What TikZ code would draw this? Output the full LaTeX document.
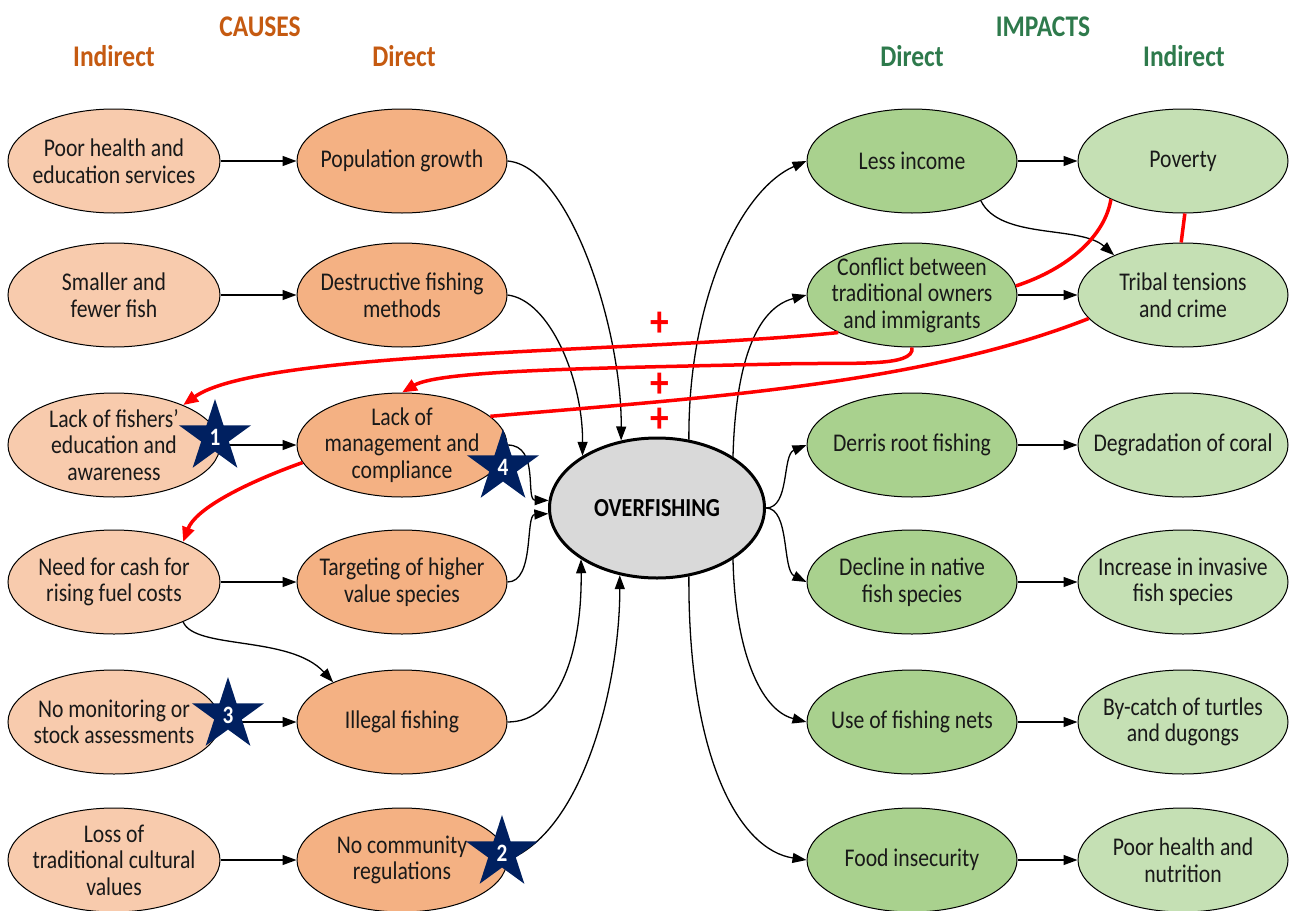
\documentclass[tikz,border=0pt]{standalone}
\usepackage{fontspec}
\setmainfont[FakeStretch=0.85]{Carlito}
\usetikzlibrary{shapes.geometric,arrows.meta}
\definecolor{causehd}{HTML}{C55A11}
\definecolor{impacthd}{HTML}{2E7A4C}
\definecolor{indcause}{HTML}{F8CBAD}
\definecolor{dircause}{HTML}{F4B183}
\definecolor{dirimp}{HTML}{A9D18E}
\definecolor{indimp}{HTML}{C5E0B4}
\definecolor{centrefill}{HTML}{D9D9D9}
\definecolor{navy}{HTML}{002060}

\begin{document}
\begin{tikzpicture}[x=1pt,y=-1pt,
  oval/.style={ellipse, draw=black, line width=1pt, minimum width=210pt, minimum height=104pt, inner sep=0pt},
  indc/.style={oval, fill=indcause, minimum width=212pt},
  dirc/.style={oval, fill=dircause},
  diri/.style={oval, fill=dirimp},
  indi/.style={oval, fill=indimp},
  lbl/.style={font=\fontsize{25.5}{26.5}\selectfont, align=center, text=black!90, inner sep=0pt},
  hdr/.style={font=\bfseries\fontsize{30}{32}\selectfont},
  conn/.style={draw=black, line width=1.3pt, -{Triangle[length=14pt,width=10pt]}},
  fb/.style={draw=red, line width=3.5pt},
  fbarrow/.style={fb, -{Triangle[length=15pt,width=12pt]}},
  badge/.style={star, star points=5, star point ratio=2.618, minimum size=76pt, inner sep=0pt,
    fill=navy, text=white, font=\bfseries\fontsize{25}{25}\selectfont},
  plussign/.style={text=red, font=\bfseries\fontsize{44}{44}\selectfont, inner sep=0pt,
    text height=23pt, text depth=0pt}
]
\useasboundingbox (0,0) rectangle (1292,910);

% headings
\node[hdr, text=causehd] (hcause) at (260,27) {CAUSES};
\node[hdr, text=causehd] (hci) at (114,56) {Indirect};
\node[hdr, text=causehd] (hcd) at (404,56) {Direct};
\node[hdr, text=impacthd] (himp) at (1043,27) {IMPACTS};
\node[hdr, text=impacthd] (hid) at (912,56) {Direct};
\node[hdr, text=impacthd] (hii) at (1184,56) {Indirect};

% indirect causes
\node[indc] (hs) at (114,161) {};
\node[lbl] at (hs) {Poor health and\\education services};
\node[indc] (sf) at (114,295) {};
\node[lbl] at (sf) {Smaller and\\fewer fish};
\node[indc] (fe) at (114,445) {};
\node[lbl] at (fe) {Lack of fishers’\\education and\\awareness};
\node[indc] (nc) at (114,582) {};
\node[lbl] at (nc) {Need for cash for\\rising fuel costs};
\node[indc] (nm) at (114,722) {};
\node[lbl] at (nm) {No monitoring or\\stock assessments};
\node[indc] (tc) at (114,860) {};
\node[lbl] at (tc) {Loss of\\traditional cultural\\values};

% direct causes
\node[dirc] (pg) at (402,161) {};
\node[lbl] at (pg) {Population growth};
\node[dirc] (df) at (402,295) {};
\node[lbl] at (df) {Destructive fishing\\methods};
\node[dirc] (mc) at (402,445) {};
\node[lbl] at (mc) {Lack of\\management and\\compliance};
\node[dirc] (th) at (402,582) {};
\node[lbl] at (th) {Targeting of higher\\value species};
\node[dirc] (il) at (402,722) {};
\node[lbl] at (il) {Illegal fishing};
\node[dirc] (cr) at (402,860) {};
\node[lbl] at (cr) {No community\\regulations};

% direct impacts
\node[diri] (li) at (912,161) {};
\node[lbl] at (li) {Less income};
\node[diri] (co) at (912,295) {};
\node[lbl] at (co) {Conflict between\\traditional owners\\and immigrants};
\node[diri] (dr) at (912,445) {};
\node[lbl] at (dr) {Derris root fishing};
\node[diri] (dn) at (912,582) {};
\node[lbl] at (dn) {Decline in native\\fish species};
\node[diri] (fn) at (912,722) {};
\node[lbl] at (fn) {Use of fishing nets};
\node[diri] (fi) at (912,860) {};
\node[lbl] at (fi) {Food insecurity};

% indirect impacts
\node[indi] (pv) at (1183,161) {};
\node[lbl] at (pv) {Poverty};
\node[indi] (tt) at (1183,295) {};
\node[lbl] at (tt) {Tribal tensions\\and crime};
\node[indi] (dc) at (1183,445) {};
\node[lbl] at (dc) {Degradation of coral};
\node[indi] (ii) at (1183,582) {};
\node[lbl] at (ii) {Increase in invasive\\fish species};
\node[indi] (bc) at (1183,722) {};
\node[lbl] at (bc) {By-catch of turtles\\and dugongs};
\node[indi] (ph) at (1183,860) {};
\node[lbl] at (ph) {Poor health and\\nutrition};

% central problem
\node[ellipse, draw=black, line width=3pt, fill=centrefill, minimum width=215pt, minimum height=140pt,
      inner sep=0pt, font=\bfseries\fontsize{26}{28}\selectfont] (of) at (657,508) {OVERFISHING};

% indirect -> direct causes
\draw[conn] (hs.east) -- (pg.west);
\draw[conn] (sf.east) -- (df.west);
\draw[conn] (fe.east) -- (mc.west);
\draw[conn] (nc.east) -- (th.west);
\draw[conn] (nm.east) -- (il.west);
\draw[conn] (tc.east) -- (cr.west);
\draw[conn] (nc.-30) .. controls (195,650) and (290,635) .. (il.150);

% direct causes -> overfishing
\draw[conn] (pg.east) .. controls (570,166) and (622,330) .. (of.118);
\draw[conn] (df.east) .. controls (550,300) and (583,380) .. (of.145);
\draw[conn] (mc.east) .. controls (540,445) and (525,500) .. (of.176);
\draw[conn] (th.east) .. controls (535,582) and (525,515) .. (of.183);
\draw[conn] (il.east) .. controls (560,722) and (582,650) .. (of.214);
\draw[conn] (cr.east) .. controls (585,830) and (620,680) .. (of.241);

% overfishing -> direct impacts
\draw[conn] (of.65) .. controls (688,300) and (740,190) .. (li.west);
\draw[conn] (of.34) .. controls (735,380) and (750,310) .. (co.west);
\draw[conn] (of.east) .. controls (790,508) and (782,455) .. (dr.west);
\draw[conn] (of.east) .. controls (790,508) and (782,570) .. (dn.west);
\draw[conn] (of.326) .. controls (735,650) and (760,710) .. (fn.west);
\draw[conn] (of.295) .. controls (688,760) and (740,850) .. (fi.west);

% direct -> indirect impacts
\draw[conn] (li.east) -- (pv.west);
\draw[conn] (co.east) -- (tt.west);
\draw[conn] (dr.east) -- (dc.west);
\draw[conn] (dn.east) -- (ii.west);
\draw[conn] (fn.east) -- (bc.west);
\draw[conn] (fi.east) -- (ph.west);
\draw[conn] (li.-30) .. controls (1000,240) and (1080,225) .. (tt.150);

% reinforcing feedback links
\draw[fb] (pv.208) .. controls (1105,235) and (1070,268) .. (co.5);
\draw[fb] (pv.272) -- (tt.92);
\draw[fbarrow] (co.207) .. controls (650,352) and (260,350) .. (fe.30);
\draw[fbarrow] (co.south) .. controls (915,368) and (850,362) .. (780,364)
   .. controls (600,368) and (440,370) .. (mc.north);
\draw[fb] (tt.194) .. controls (920,385) and (700,398) .. (mc.18);
\draw[fbarrow] (mc.190) .. controls (240,485) and (195,510) .. (nc.30);

\node[plussign] (p1) at (660,325) {+};
\node[plussign] (p2) at (660,386) {+};
\node[plussign] (p3) at (660,421) {+};

% priority markers
\node[badge] (s1) at (215,437) {1};
\node[badge] (s4) at (503,467) {4};
\node[badge] (s3) at (228,715) {3};
\node[badge] (s2) at (502,853) {2};
\end{tikzpicture}
\end{document}
